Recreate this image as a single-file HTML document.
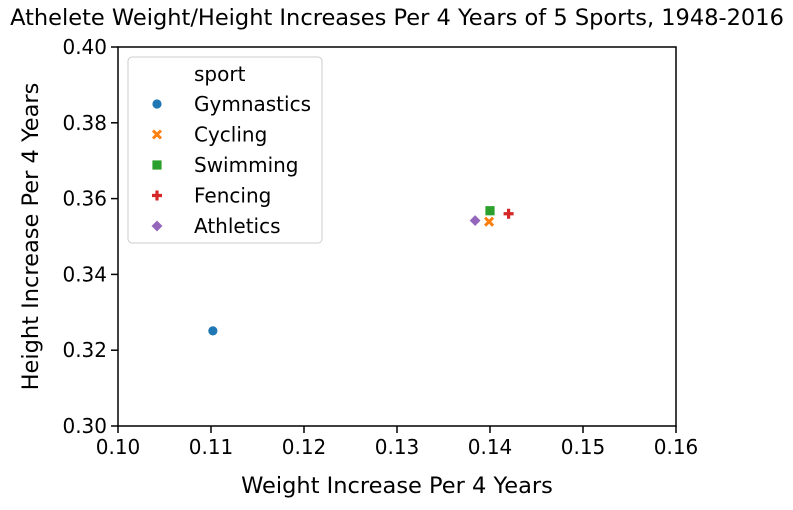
<!DOCTYPE html>
<html><head><meta charset="utf-8"><style>
body{margin:0;background:#fff;font-family:"Liberation Sans","DejaVu Sans",sans-serif;}
svg text{font-family:"DejaVu Sans","Liberation Sans",sans-serif;fill:#000;}
</style></head><body>
<svg id="chart" width="793" height="505">
<text x="397" y="25" font-size="22.5" text-anchor="middle">Athelete Weight/Height Increases Per 4 Years of 5 Sports, 1948-2016</text>
<g id="axes"></g>
<g id="marks"></g>
<g id="legend"></g>
</svg>
<script>
const sports=["Gymnastics","Cycling","Swimming","Fencing","Athletics"];
const weightInc=[0.1102,0.1399,0.1400,0.1420,0.1384];
const heightInc=[0.3251,0.3539,0.3568,0.3560,0.3542];
const xTicks=[0.10,0.11,0.12,0.13,0.14,0.15,0.16];
const yTicks=[0.30,0.32,0.34,0.36,0.38,0.40];
const colors=["#1f77b4","#ff7f0e","#2ca02c","#d62728","#9467bd"];
const shapes=["circle","x","square","plus","diamond"];
const L=118,R=676,T=47,B=426;
const sx=v=>L+(v-0.10)/0.06*(R-L);
const sy=v=>B-(v-0.30)/0.10*(B-T);
const NS="http://www.w3.org/2000/svg";
function mk(tag,attrs,parent){const e=document.createElementNS(NS,tag);for(const k in attrs)e.setAttribute(k,attrs[k]);parent.appendChild(e);return e;}
const axes=document.getElementById('axes');
const frame=mk('rect',{x:L,y:T,width:R-L,height:B-T,fill:'none',stroke:'#000','stroke-width':1.5},axes);


xTicks.forEach(t=>{const x=sx(t);
 const l=mk('line',{x1:x,x2:x,y1:B,y2:B+7,stroke:'#000','stroke-width':1.5},axes);
 
 
 const tx=mk('text',{x:x,y:B+28,'font-size':20,'text-anchor':'middle'},axes);tx.textContent=t.toFixed(2);
 
 });
yTicks.forEach(t=>{const y=sy(t);
 const l=mk('line',{x1:L-7,x2:L,y1:y,y2:y,stroke:'#000','stroke-width':1.5},axes);
 
 
 const tx=mk('text',{x:L-11,y:y+7,'font-size':20,'text-anchor':'end'},axes);tx.textContent=t.toFixed(2);
 
 });
const xt=mk('text',{x:(L+R)/2,y:493,'font-size':22.5,'text-anchor':'middle'},axes);xt.textContent='Weight Increase Per 4 Years';


const yt=mk('text',{x:0,y:0,'font-size':22.5,'text-anchor':'middle',transform:`translate(38,${(T+B)/2}) rotate(-90)`},axes);yt.textContent='Height Increase Per 4 Years';


function marker(shape,x,y,c,p){
 if(shape==='circle')return mk('circle',{cx:x,cy:y,r:5,fill:c,stroke:'#fff','stroke-width':0.8},p);
 if(shape==='square')return mk('rect',{x:x-5,y:y-5,width:10,height:10,fill:c,stroke:'#fff','stroke-width':0.8},p);
 if(shape==='diamond')return mk('path',{d:`M${x} ${y-6}L${x+6} ${y}L${x} ${y+6}L${x-6} ${y}Z`,fill:c,stroke:'#fff','stroke-width':0.8},p);
 if(shape==='plus')return mk('path',{d:`M${x-5} ${y}H${x+5}M${x} ${y-5}V${y+5}`,stroke:c,'stroke-width':3.2},p);
 return mk('path',{d:`M${x-4} ${y-4}L${x+4} ${y+4}M${x-4} ${y+4}L${x+4} ${y-4}`,stroke:c,'stroke-width':3},p);
}
const marks=document.getElementById('marks');
sports.forEach((s,i)=>{const m=marker(shapes[i],sx(weightInc[i]),sy(heightInc[i]),colors[i],marks);
 
 });
const lg=document.getElementById('legend');
const box=mk('rect',{x:128,y:57,width:194,height:186,rx:4,fill:'#fff',stroke:'#ccc','stroke-width':1},lg);


const lt=mk('text',{x:194,y:81,'font-size':20},lg);lt.textContent='sport';


sports.forEach((s,i)=>{const y=104+i*30.5;
 const g=mk('g',{},lg);
 
 
 marker(shapes[i],157,y,colors[i],g);
 const t=mk('text',{x:194,y:y+7,'font-size':20},g);t.textContent=s;});
</script>
</body></html>
